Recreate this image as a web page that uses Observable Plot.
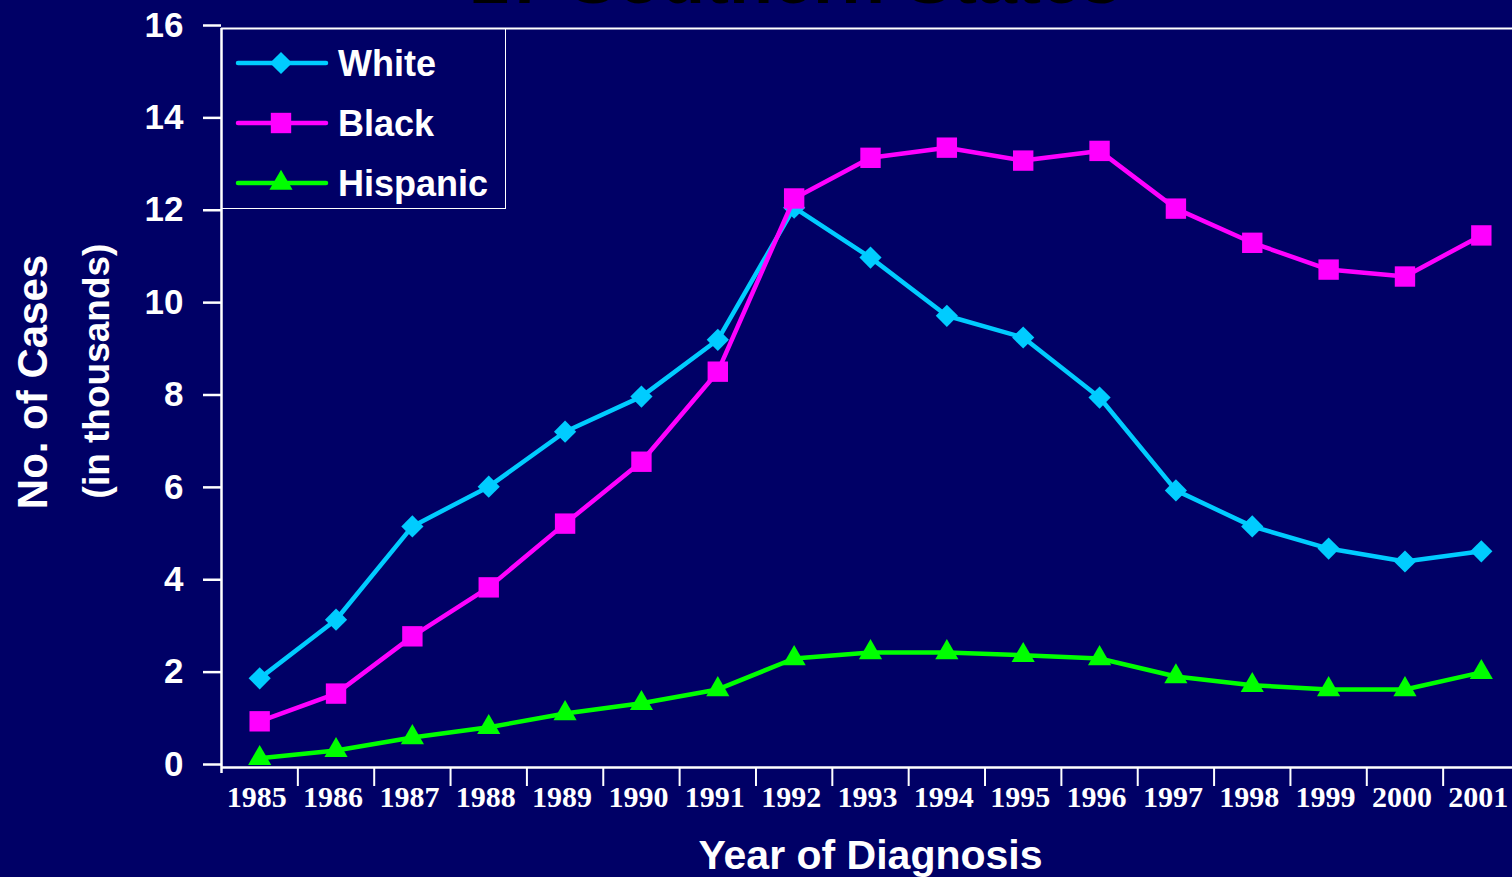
<!DOCTYPE html>
<html>
<head>
<meta charset="utf-8">
<script src="https://cdn.jsdelivr.net/npm/d3@7"></script>
<script src="https://cdn.jsdelivr.net/npm/@observablehq/plot@0.6"></script>
<style>
  html, body { margin: 0; padding: 0; background: #000066; overflow: hidden; width: 1512px; height: 877px; }
  #wrap { position: relative; width: 1512px; height: 877px; overflow: hidden; }
  #title { position: absolute; left: 0; width: 1590px; top: -58px; text-align: center;
           font: bold 72px "Liberation Sans", Arial, sans-serif; line-height: 72px; color: #000000; white-space: nowrap; }
  #legend { position: absolute; left: 221px; top: 28px; width: 285px; height: 181px;
            border: 1.5px solid #ffffff; box-sizing: border-box; }
  #legend .item { position: absolute; left: 0; height: 40px; width: 280px; }
  #legend .item svg { position: absolute; left: 0; top: 0; }
  #legend .item span { position: absolute; left: 116px; top: 0; line-height: 40px;
            font: bold 36px "Liberation Sans", Arial, sans-serif; color: #ffffff; }
  #chart { position: absolute; left: 0; top: 0; }
  #chart svg { max-width: none !important; }
</style>
</head>
<body>
<div id="wrap">
  <div id="chart"></div>
  <div id="title">17 Southern States</div>
  <div id="legend"></div>
</div>
<script>
// ---- data ----
const years = [1985, 1986, 1987, 1988, 1989, 1990, 1991, 1992, 1993, 1994, 1995, 1996, 1997, 1998, 1999, 2000, 2001];
const whiteCases    = [1.93, 3.2, 5.22, 6.08, 7.27, 8.03, 9.26, 12.12, 11.04, 9.78, 9.31, 8.01, 6.0, 5.22, 4.74, 4.46, 4.68];
const blackCases    = [1.0, 1.6, 2.84, 3.9, 5.28, 6.62, 8.57, 12.32, 13.2, 13.42, 13.14, 13.35, 12.1, 11.36, 10.78, 10.63, 11.52];
const hispanicCases = [0.2, 0.37, 0.65, 0.87, 1.17, 1.39, 1.69, 2.36, 2.49, 2.49, 2.43, 2.36, 1.97, 1.78, 1.69, 1.69, 2.06];
const seriesNames   = ["White", "Black", "Hispanic"];
const seriesColors  = ["#00CCFF", "#FF00FF", "#00FF00"];
const seriesSymbols = ["diamond2", "square", "triangle"];
const yTicks = [0, 2, 4, 6, 8, 10, 12, 14, 16];
const xLabel = "Year of Diagnosis";
const yLabel1 = "No. of Cases";
const yLabel2 = "(in thousands)";

const seriesValues = [whiteCases, blackCases, hispanicCases];
const table = seriesNames.map((name, s) => years.map((year, i) => ({ year, value: seriesValues[s][i], series: name })));
const xMin = years[0] - 0.5, xMax = years[years.length - 1] + 0.5;
const boundaries = years.map(y => y + 0.5);
const symbolR = { diamond2: 10, square: 11.5, triangle: 8.6 };

const sans = "'Liberation Sans', Arial, sans-serif";
const serif = "'Liberation Serif', 'Times New Roman', serif";

const seriesMarks = [];
table.forEach((rows, s) => {
  seriesMarks.push(Plot.line(rows, { x: "year", y: "value", stroke: seriesColors[s], strokeWidth: 4.5, strokeLinejoin: "round" }));
  seriesMarks.push(Plot.dot(rows, { x: "year", y: "value", symbol: () => seriesSymbols[s], r: symbolR[seriesSymbols[s]], fill: seriesColors[s], stroke: "none" }));
});

const chart = Plot.plot({
  width: 1530,
  height: 877,
  marginLeft: 221,
  marginRight: 11,
  marginTop: 28,
  marginBottom: 110,
  style: { background: "transparent", overflow: "visible", maxWidth: "none" },
  x: { type: "linear", domain: [xMin, xMax] },
  y: { domain: [yTicks[0], yTicks[yTicks.length - 1]] },
  symbol: { type: "identity" },
  marks: [
    Plot.ruleY([yTicks[yTicks.length - 1]], { stroke: "#ffffff", strokeWidth: 2, insetRight: -20 }),
    Plot.ruleY([yTicks[0]], { stroke: "#ffffff", strokeWidth: 2.5, insetRight: -20 }),
    Plot.ruleX([xMin], { stroke: "#ffffff", strokeWidth: 2.5, insetBottom: -6 }),
    Plot.axisY({ ticks: yTicks, tickSize: 18, tickPadding: 20, tickFormat: d => String(d), label: null,
                 fontSize: 35, fontWeight: "bold", fontFamily: sans, fill: "#ffffff", stroke: "#ffffff", strokeWidth: 2.5, dy: -3 }),
    Plot.axisX({ ticks: boundaries, tickSize: 19, tickFormat: () => "", label: null, stroke: "#ffffff", strokeWidth: 2 }),
    Plot.axisX({ ticks: years, tickSize: 0, tickPadding: 18, tickFormat: d => String(d), label: null, dx: -3,
                 fontSize: 30, fontWeight: "bold", fontFamily: serif, fill: "#ffffff" }),
    Plot.text([xLabel], { frameAnchor: "bottom", text: d => d, dy: 88, lineAnchor: "middle", textAnchor: "middle",
                          fontSize: 41, fontWeight: "bold", fontFamily: sans, fill: "#ffffff" }),
    Plot.text([yLabel1], { frameAnchor: "left", text: d => d, rotate: -90, dx: -188, dy: -16, lineAnchor: "middle", textAnchor: "middle",
                           fontSize: 42, fontWeight: "bold", fontFamily: sans, fill: "#ffffff" }),
    Plot.text([yLabel2], { frameAnchor: "left", text: d => d, rotate: -90, dx: -124, dy: -27, lineAnchor: "middle", textAnchor: "middle",
                           fontSize: 37, fontWeight: "bold", fontFamily: sans, fill: "#ffffff" }),
    ...seriesMarks
  ]
});
document.getElementById("chart").appendChild(chart);

// ---- legend ----
const d3Sym = { diamond2: d3.symbolDiamond2, square: d3.symbolSquare, triangle: d3.symbolTriangle };
const legend = document.getElementById("legend");
seriesNames.forEach((name, s) => {
  const item = document.createElement("div");
  item.className = "item";
  item.style.top = (14 + s * 60) + "px";
  const sym = seriesSymbols[s];
  const r = symbolR[sym];
  const path = d3.symbol(d3Sym[sym], r * r * Math.PI)();
  item.innerHTML = `<svg width="110" height="40" viewBox="0 0 110 40">
      <line x1="16" x2="104" y1="20" y2="20" stroke="${seriesColors[s]}" stroke-width="4.5" stroke-linecap="round"/>
      <path d="${path}" transform="translate(59,20)" fill="${seriesColors[s]}"/>
    </svg><span>${name}</span>`;
  legend.appendChild(item);
});
</script>
</body>
</html>
